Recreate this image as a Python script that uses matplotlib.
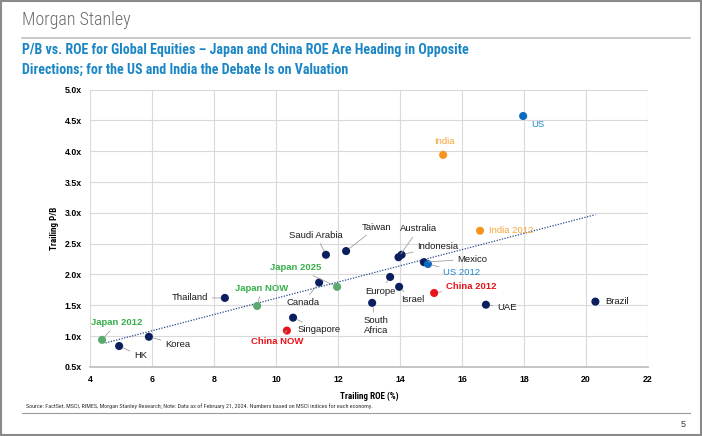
import matplotlib.pyplot as plt
from matplotlib.lines import Line2D
import numpy as np

names = ['US', 'India', 'India 2012', 'Taiwan', 'Saudi Arabia', 'Australia', 'Indonesia',
         'Mexico', 'US 2012', 'Europe', 'Israel', 'China 2012', 'UAE', 'Brazil',
         'South\nAfrica', 'Canada', 'Japan 2025', 'Thailand', 'Japan NOW', 'Singapore',
         'China NOW', 'Korea', 'Japan 2012', 'HK']
roe = [17.97, 15.39, 16.58, 12.26, 11.61, 13.95, 14.05, 14.77, 14.90, 13.68, 13.97, 15.10,
       16.77, 20.30, 13.10, 11.39, 11.97, 8.35, 9.39, 10.55, 10.35, 5.90, 4.39, 4.94]
pb = [4.57, 3.94, 2.71, 2.38, 2.32, 2.28, 2.32, 2.20, 2.17, 1.96, 1.80, 1.70, 1.51, 1.56,
      1.54, 1.87, 1.80, 1.62, 1.49, 1.30, 1.09, 0.99, 0.94, 0.84]
groups = ['us', 'india', 'india', 'em', 'em', 'em', 'em', 'em', 'us', 'em', 'em', 'china',
          'em', 'em', 'em', 'em', 'japan', 'em', 'japan', 'em', 'china', 'em', 'japan', 'em']

# label placement (data coords) and alignment, leader on/off
lab_x = [18.23, 15.42, 16.87, 12.77, 11.29, 14.0, 14.55, 15.84, 15.39, 13.87, 14.03, 15.48,
         17.13, 20.61, 13.23, 10.87, 10.65, 7.81, 9.55, 10.68, 10.03, 6.42, 4.87, 5.42]
lab_y = [4.44, 4.15, 2.71, 2.77, 2.64, 2.74, 2.46, 2.25, 2.03, 1.73, 1.59, 1.80, 1.47, 1.56,
         1.17, 1.54, 2.11, 1.62, 1.78, 1.10, 0.91, 0.86, 1.22, 0.68]
lab_ha = ['left', 'center', 'left', 'left', 'center', 'left', 'left', 'left', 'left', 'right',
          'left', 'left', 'left', 'left', 'center', 'center', 'center', 'right', 'center',
          'left', 'center', 'left', 'center', 'left']
leader = [True, False, False, True, True, True, True, True, True, True, True, True, True,
          False, True, True, True, True, True, True, True, True, True, True]

trend_x = [4.5, 20.3]
trend_y = [0.89, 2.97]

dot_col = {'em': '#0b1f5e', 'us': '#0a6bbf', 'india': '#f7941d', 'japan': '#5aaa6e',
           'china': '#e8141b'}
txt_col = {'em': '#1a1a1a', 'us': '#1f88c8', 'india': '#f7a234', 'japan': '#36b04a',
           'china': '#e8141b'}
txt_bold = {'em': 'normal', 'us': 'normal', 'india': 'normal', 'japan': 'bold', 'china': 'bold'}

narrow = ['Arial Narrow', 'Roboto Condensed', 'PT Sans Narrow', 'Archivo Narrow',
          'DejaVu Sans Condensed', 'DejaVu Sans']
plt.rcParams['font.family'] = ['Liberation Sans', 'DejaVu Sans']

fig = plt.figure(figsize=(7.02, 4.36), dpi=100)
ax = fig.add_axes([0.1282, 0.1583, 0.795, 0.6364])

ax.plot(trend_x, trend_y, ls=(0, (1, 1.2)), color='#2a4a8c', lw=0.9, zorder=2)

for i, n in enumerate(names):
    g = groups[i]
    ax.scatter(roe[i], pb[i], s=34, color=dot_col[g], zorder=4, edgecolors='none')
    ap = None
    if leader[i]:
        ap = dict(arrowstyle='-', color='#a0a0a0', lw=0.6, shrinkA=1, shrinkB=3)
    ax.annotate(n, xy=(roe[i], pb[i]), xytext=(lab_x[i], lab_y[i]), ha=lab_ha[i],
                va='center', fontsize=6.8, color=txt_col[g], fontweight=txt_bold[g],
                arrowprops=ap, zorder=5, linespacing=1.1)

ax.set_xlim(4, 22)
ax.set_ylim(0.5, 5.0)
ax.set_xticks(np.arange(4, 23, 2))
ax.set_yticks(np.arange(0.5, 5.01, 0.5))
ax.set_yticklabels([f'{v:.1f}x' for v in np.arange(0.5, 5.01, 0.5)])
ax.grid(True, color='#d9d9d9', lw=0.8)
ax.set_axisbelow(True)
for s in ['top', 'right', 'left']:
    ax.spines[s].set_visible(False)
ax.spines['bottom'].set_color('#c0c0c0')
ax.spines['bottom'].set_linewidth(1.3)
ax.tick_params(length=0, labelsize=6.3, pad=6)
for t in ax.get_xticklabels() + ax.get_yticklabels():
    t.set_fontweight('bold')
ax.set_xlabel('Trailing ROE (%)', fontsize=6.5, fontweight='bold', family=narrow, labelpad=5)
ax.set_ylabel('Trailing P/B', fontsize=6.5, fontweight='bold', family=narrow, labelpad=4)

# header / footer
fig.text(22 / 702, 1 - 20 / 436, 'Morgan Stanley', fontsize=13, color='#6a6a6a',
         va='center', ha='left', family=narrow, fontweight='light')
fig.add_artist(Line2D([22 / 702, 690 / 702], [1 - 38 / 436] * 2, color='#bdbdbd', lw=1.2))
fig.text(22 / 702, 1 - 50 / 436,
         'P/B vs. ROE for Global Equities \u2013 Japan and China ROE Are Heading in Opposite',
         fontsize=10.1, color='#1b86c6', fontweight='bold', va='center', family=narrow)
fig.text(22 / 702, 1 - 70 / 436,
         'Directions; for the US and India the Debate Is on Valuation',
         fontsize=10.1, color='#1b86c6', fontweight='bold', va='center', family=narrow)
fig.text(26 / 702, 1 - 406 / 436,
         'Source: FactSet, MSCI, RIMES, Morgan Stanley Research; Note: Data as of February 21, '
         '2024. Numbers based on MSCI indices for each economy.',
         fontsize=4.4, color='#333333', va='center', family=narrow)
fig.add_artist(Line2D([22 / 702, 690 / 702], [1 - 413 / 436] * 2, color='#9a9a9a', lw=0.8))
fig.text(683 / 702, 1 - 424 / 436, '5', fontsize=6.5, color='#333333', va='center', ha='center')
fig.add_artist(plt.Rectangle((0.001, 0.002), 0.997, 0.995, fill=False, ec='#8a8a8a', lw=1.5,
                             transform=fig.transFigure))

fig.savefig('out.png', dpi=100)
